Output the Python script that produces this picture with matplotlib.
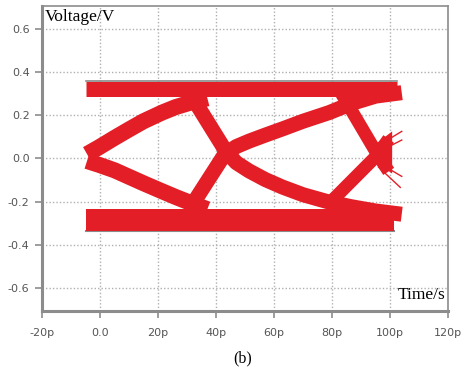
import numpy as np
import matplotlib.pyplot as plt

# eye diagram bands (time in ps, voltage in V)
top_rail_t = [-4.8, 102.4]
top_rail_v = [0.322, 0.322]
bot_rail_t = [-4.8, 101.5]
bot_rail_v = [-0.285, -0.285]

# slow arcs starting from the left crossing
left_up_t = [-4.5, -0.3, 5.0, 10.0, 15.0, 21.4, 26.0, 30.7, 37.0]
left_up_v = [0.020, 0.052, 0.095, 0.134, 0.172, 0.212, 0.237, 0.256, 0.278]
left_dn_t = [-4.5, -0.3, 5.0, 10.0, 15.0, 21.4, 26.0, 30.7, 37.0]
left_dn_v = [-0.012, -0.030, -0.055, -0.085, -0.115, -0.152, -0.178, -0.203, -0.235]

# steep fall at ~32p, then slow arc down to the bottom rail
fall1_t = [31.0, 43.5, 47.0, 51.4, 57.0, 62.8, 70.0, 79.0, 86.9, 95.0, 104.0]
fall1_v = [0.300, 0.030, -0.020, -0.058, -0.098, -0.132, -0.168, -0.202, -0.224, -0.243, -0.258]

# steep rise at ~32p, then slow arc up to the top rail
rise1_t = [31.5, 43.0, 47.0, 51.4, 57.0, 62.8, 70.0, 79.0, 86.9, 95.0, 104.0]
rise1_v = [-0.220, 0.020, 0.055, 0.080, 0.108, 0.136, 0.172, 0.212, 0.255, 0.288, 0.304]

# second crossing near 95p
fall2_t = [83.0, 95.2, 99.5]
fall2_v = [0.305, 0.028, -0.060]
rise2_t = [78.5, 95.2, 99.5]
rise2_v = [-0.215, 0.010, 0.090]
fan_t = [93.0, 100.7, 100.7, 94.0]
fan_v = [0.045, 0.125, -0.070, -0.005]

# thin stray traces at the right edge of the fan
stray_t = [[96.0, 104.0], [96.0, 104.0], [96.0, 104.0], [96.0, 103.5]]
stray_v = [[0.06, 0.125], [0.03, 0.085], [-0.02, -0.083], [-0.04, -0.134]]

xticks = [-20, 0, 20, 40, 60, 80, 100, 120]
xtick_labels = ['-20p', '0.0', '20p', '40p', '60p', '80p', '100p', '120p']
yticks = [-0.6, -0.4, -0.2, 0.0, 0.2, 0.4, 0.6]
ytick_labels = ['-0.6', '-0.4', '-0.2', '0.0', '0.2', '0.4', '0.6']

red = '#e41e26'
gray = '#8a8a8a'

fig = plt.figure(figsize=(4.62, 3.71), dpi=100)
ax = fig.add_axes([0.091, 0.162, 0.879, 0.822])

px = 72 / 100  # points per pixel

# gray edges of the rails
ax.plot(top_rail_t, [0.356, 0.356], color=gray, lw=1.2)
ax.plot(bot_rail_t, [-0.337, -0.337], color=gray, lw=1.5)

ax.plot(top_rail_t, top_rail_v, color=red, lw=15 * px, solid_capstyle='butt')
ax.plot(bot_rail_t, bot_rail_v, color=red, lw=22 * px, solid_capstyle='butt')
ax.plot(left_up_t, left_up_v, color=red, lw=16 * px, solid_capstyle='butt',
        solid_joinstyle='round')
ax.plot(left_dn_t, left_dn_v, color=red, lw=16 * px, solid_capstyle='butt',
        solid_joinstyle='round')
ax.plot(fall1_t, fall1_v, color=red, lw=15 * px, solid_capstyle='butt',
        solid_joinstyle='round')
ax.plot(rise1_t, rise1_v, color=red, lw=15 * px, solid_capstyle='butt',
        solid_joinstyle='round')
ax.plot(fall2_t, fall2_v, color=red, lw=13 * px, solid_capstyle='butt',
        solid_joinstyle='round')
ax.plot(rise2_t, rise2_v, color=red, lw=13 * px, solid_capstyle='butt',
        solid_joinstyle='round')
ax.fill(fan_t, fan_v, color=red, lw=0)
for t, v in zip(stray_t, stray_v):
    ax.plot(t, v, color=red, lw=1.0)

ax.set_xlim(-20, 120)
ax.set_ylim(-0.705, 0.705)
ax.set_xticks(xticks)
ax.set_xticklabels(xtick_labels)
ax.set_yticks(yticks)
ax.set_yticklabels(ytick_labels)
ax.set_axisbelow(True)
ax.grid(True, color='#b0b0b0', linestyle=(0, (1, 1.5)), lw=1.0)

for s in ax.spines.values():
    s.set_color('#8c8c8c')
    s.set_linewidth(1.2)
ax.spines['left'].set_linewidth(2.2)
ax.spines['bottom'].set_linewidth(2.2)
ax.tick_params(direction='out', length=5, width=1.2, color='#8c8c8c',
               labelcolor='#555555', labelsize=8, pad=4)
ax.tick_params(axis='x', pad=7)

ax.text(0.008, 0.99, 'Voltage/V', transform=ax.transAxes, ha='left', va='top',
        family='Liberation Serif', fontsize=12.5)
ax.text(0.993, 0.025, 'Time/s', transform=ax.transAxes, ha='right', va='bottom',
        family='Liberation Serif', fontsize=12.5)
fig.text(0.526, 0.035, '(b)', ha='center', va='center',
         family='Liberation Serif', fontsize=11.5)

fig.savefig('out.png', dpi=100)
